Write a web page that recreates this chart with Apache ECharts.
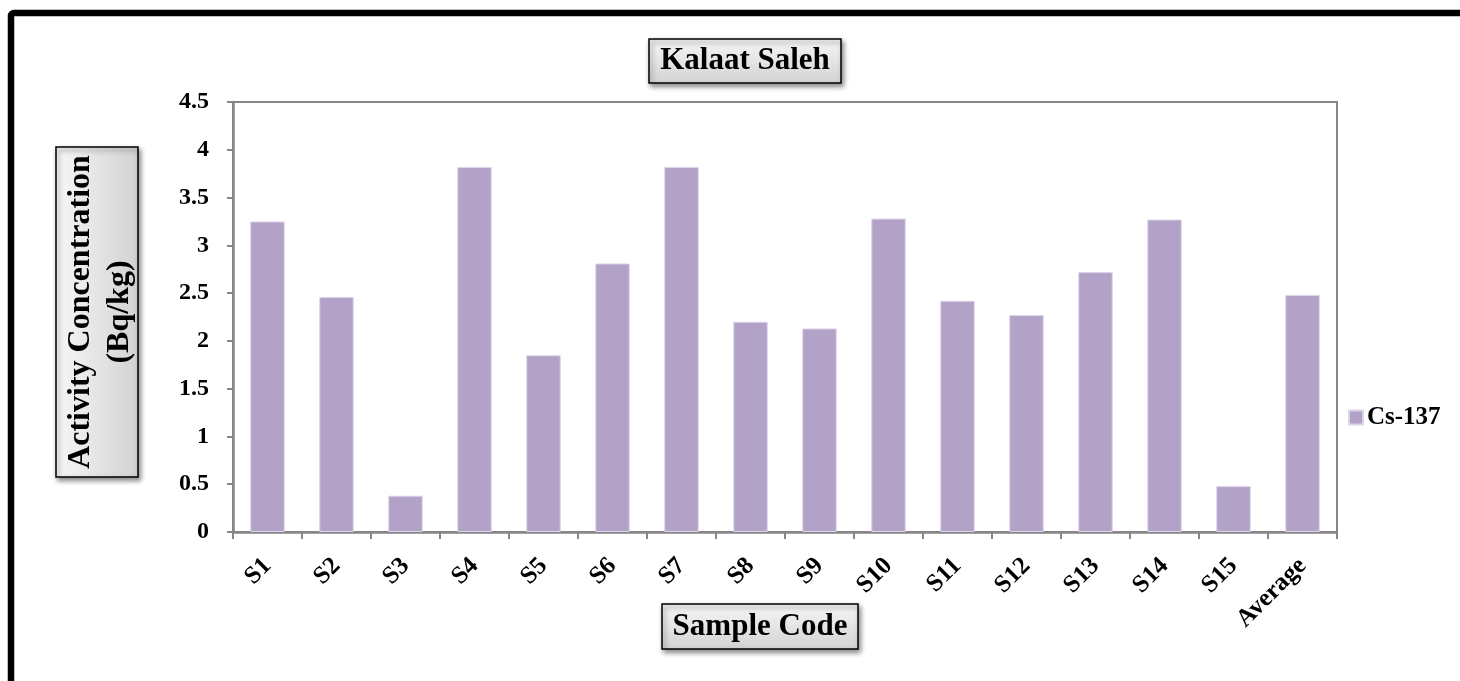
<!DOCTYPE html>
<html>
<head>
<meta charset="utf-8">
<title>Kalaat Saleh – Cs-137</title>
<script src="https://cdn.jsdelivr.net/npm/echarts@6/dist/echarts.min.js"></script>
<style>
  html, body { margin: 0; padding: 0; background: #ffffff; }
  #chart { width: 1460px; height: 681px; }
</style>
</head>
<body>
<div id="chart"></div>
<script>
// Sample codes along the x axis
const categories = ['S1', 'S2', 'S3', 'S4', 'S5', 'S6', 'S7', 'S8', 'S9', 'S10',
                    'S11', 'S12', 'S13', 'S14', 'S15', 'Average'];
// Cs-137 activity concentration (Bq/kg) for each sample
const cs137 = [3.25, 2.46, 0.38, 3.82, 1.85, 2.81, 3.82, 2.20, 2.13, 3.28,
               2.42, 2.27, 2.72, 3.27, 0.48, 2.48];
const seriesName = 'Cs-137';
const chartTitle = 'Kalaat Saleh';
const xTitle = 'Sample Code';
const yTitle = 'Activity Concentration\n(Bq/kg)';
// Value axis range and step
const yMin = 0, yMax = 4.5, yStep = 0.5;

const FONT = '"Liberation Serif", "Times New Roman", serif';
const AXIS_GREY = '#868686';

// Framed caption box with grey gradient and drop shadow
function captionBox(x, y, w, h, text, opts) {
  opts = opts || {};
  return {
    type: 'group',
    children: [
      {
        type: 'rect',
        shape: { x: x, y: y, width: w, height: h },
        style: {
          fill: {
            type: 'linear', x: 0, y: 0, x2: opts.horizontalGrad ? 1 : 0, y2: opts.horizontalGrad ? 0 : 1,
            colorStops: [
              { offset: 0, color: '#f7f7f7' },
              { offset: 1, color: '#d2d2d2' }
            ]
          },
          stroke: '#000000',
          lineWidth: 1.5,
          shadowBlur: 5,
          shadowOffsetX: 2,
          shadowOffsetY: 3,
          shadowColor: 'rgba(0,0,0,0.45)'
        }
      },
      {
        type: 'text',
        x: x + w / 2 + (opts.dx || 0),
        y: y + h / 2 + (opts.dy || 0),
        rotation: opts.rotation || 0,
        style: {
          text: text,
          fill: '#000000',
          font: 'bold ' + (opts.size || 30) + 'px ' + FONT,
          align: 'center',
          verticalAlign: 'middle',
          lineHeight: opts.lineHeight || 34
        }
      }
    ]
  };
}

const chart = echarts.init(document.getElementById('chart'), null, { renderer: 'canvas' });

chart.setOption({
  backgroundColor: '#ffffff',
  animation: false,
  grid: {
    left: 233, right: 123, top: 102, bottom: 149,
    show: true,
    borderColor: AXIS_GREY,
    borderWidth: 2,
    backgroundColor: 'transparent'
  },
  legend: {
    left: 1343,
    top: 400,
    orient: 'vertical',
    icon: 'rect',
    itemWidth: 14,
    itemHeight: 14,
    itemGap: 6,
    textStyle: { fontFamily: FONT, fontWeight: 'bold', fontSize: 25, color: '#000000', padding: [0, 0, 0, -1] },
    data: [seriesName]
  },
  xAxis: {
    type: 'category',
    data: categories,
    boundaryGap: true,
    axisLine: { lineStyle: { color: AXIS_GREY, width: 2.5 } },
    axisTick: { show: true, alignWithLabel: false, length: 7, lineStyle: { color: AXIS_GREY, width: 2 } },
    axisLabel: {
      rotate: 45,
      interval: 0,
      margin: 30,
      fontFamily: FONT,
      fontWeight: 'bold',
      fontSize: 25,
      color: '#000000'
    },
    splitLine: { show: false }
  },
  yAxis: {
    type: 'value',
    min: yMin,
    max: yMax,
    interval: yStep,
    axisLine: { show: true, lineStyle: { color: AXIS_GREY, width: 2.5 } },
    axisTick: { show: true, length: 6, lineStyle: { color: AXIS_GREY, width: 2 } },
    axisLabel: {
      margin: 24,
      fontFamily: FONT,
      fontWeight: 'bold',
      fontSize: 24,
      color: '#000000'
    },
    splitLine: { show: false }
  },
  series: [{
    name: seriesName,
    type: 'bar',
    data: cs137,
    barCategoryGap: '50%',
    itemStyle: {
      color: '#b3a2c7',
      borderColor: '#ddd4ea',
      borderWidth: 1
    }
  }],
  graphic: [
    // outer black frame
    {
      type: 'rect',
      shape: { x: 11, y: 13, width: 1500, height: 720, r: 3 },
      style: { fill: 'none', stroke: '#000000', lineWidth: 6.5 },
      z: 100
    },
    captionBox(649, 39, 192, 44, chartTitle, { size: 31 }),
    captionBox(662, 604, 196, 45, xTitle, { size: 31 }),
    captionBox(56, 147, 82, 330, yTitle, { size: 32, rotation: Math.PI / 2, lineHeight: 39, horizontalGrad: true, dx: 3 })
  ]
});
</script>
</body>
</html>
